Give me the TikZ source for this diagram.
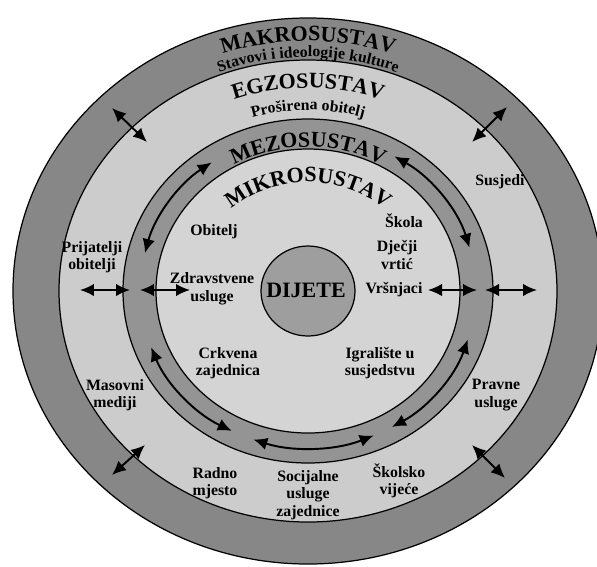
\documentclass[tikz,border=0pt]{standalone}
\usepackage{fontspec}
\setmainfont{Liberation Serif}
\usetikzlibrary{arrows.meta,decorations.text}
\definecolor{makrofill}{gray}{0.53}
\definecolor{egzofill}{gray}{0.80}
\definecolor{mezofill}{gray}{0.58}
\definecolor{mikrofill}{gray}{0.83}
\definecolor{dijetefill}{gray}{0.62}
\tikzset{
  ring/.style={draw=black, line width=0.7pt},
  lbl/.style={font=\bfseries\fontsize{9}{10}\selectfont, align=center, inner sep=0pt},
  link/.style={{Latex[length=2.8mm,width=2.5mm]}-{Latex[length=2.8mm,width=2.5mm]}, line width=1.1pt},
  arctext/.style={decorate, decoration={text along path, text align=center, text={#1}}}
}
\newcommand{\ringtitle}{\bfseries\fontsize{12.5}{12.5}\selectfont}
\newcommand{\ringsub}{\bfseries\fontsize{9}{9}\selectfont}

\begin{document}
\begin{tikzpicture}[x=0.02cm, y=0.02cm]
  \useasboundingbox (-308,-275) rectangle (289,291);
  \begin{scope}
    \clip (-308,-275) rectangle (289,291);
    \draw[ring, fill=makrofill] (0,0) ellipse[x radius=295, y radius=273];
  \end{scope}
  \draw[ring, fill=egzofill] (0,0) ellipse[x radius=249, y radius=231];
  \draw[ring, fill=mezofill] (0,0) ellipse[x radius=185, y radius=172];
  \draw[ring, fill=mikrofill] (0,0) ellipse[x radius=152, y radius=142];
  \draw[ring, fill=dijetefill] (0,0) ellipse[x radius=47, y radius=45];

  \path[arctext={|\ringtitle|MAKROSUSTAV}] (150:267 and 250)
    arc[start angle=150, end angle=30, x radius=267, y radius=250];
  \path[arctext={|\ringsub|Stavovi i ideologije kulture}] (150:250 and 234)
    arc[start angle=150, end angle=30, x radius=250, y radius=234];
  \path[arctext={|\ringtitle|EGZOSUSTAV}] (150:217 and 203)
    arc[start angle=150, end angle=30, x radius=217, y radius=203];
  \path[arctext={|\ringsub|Proširena obitelj}] (150:194 and 181)
    arc[start angle=150, end angle=30, x radius=194, y radius=181];
  \path[arctext={|\ringtitle|MEZOSUSTAV}] (150:154 and 144)
    arc[start angle=150, end angle=30, x radius=154, y radius=144];
  \path[arctext={|\ringtitle|MIKROSUSTAV}] (160:117 and 109)
    arc[start angle=160, end angle=20, x radius=117, y radius=109];

  \node[font=\bfseries\fontsize{12.5}{12.5}\selectfont] (dijete) at (-2,1) {DIJETE};
  \node[lbl] (obitelj) at (-94,59) {Obitelj};
  \node[lbl] (zdravstvene) at (-96,2) {Zdravstvene\\usluge};
  \node[lbl] (skola) at (96,70) {Škola};
  \node[lbl] (djecji) at (89,36) {Dječji\\vrtić};
  \node[lbl] (vrsnjaci) at (86,1) {Vršnjaci};
  \node[lbl] (crkvena) at (-80,-72) {Crkvena\\zajednica};
  \node[lbl] (igraliste) at (72,-72) {Igralište u\\susjedstvu};
  \node[lbl] (prijatelji) at (-216,34) {Prijatelji\\obitelji};
  \node[lbl] (susjedi) at (192,109) {Susjedi};
  \node[lbl] (masovni) at (-193,-104) {Masovni\\mediji};
  \node[lbl] (pravne) at (188,-104) {Pravne\\usluge};
  \node[lbl] (radno) at (-93,-192) {Radno\\mjesto};
  \node[lbl] (socijalne) at (0,-204) {Socijalne\\usluge\\zajednice};
  \node[lbl] (skolsko) at (91,-190) {Školsko\\vijeće};

  \coordinate (westOutA) at (-228,1);
  \coordinate (westOutB) at (-178,1);
  \coordinate (westInA) at (-168,1);
  \coordinate (westInB) at (-118,1);
  \coordinate (eastInA) at (120,1);
  \coordinate (eastInB) at (169,1);
  \coordinate (eastOutA) at (177,1);
  \coordinate (eastOutB) at (229,1);
  \coordinate (nwA) at (-196,183);
  \coordinate (nwB) at (-161,149);
  \coordinate (neA) at (199,184);
  \coordinate (neB) at (164,149);
  \coordinate (swA) at (-196,-184);
  \coordinate (swB) at (-163,-154);
  \coordinate (seA) at (164,-154);
  \coordinate (seB) at (197,-187);
  \coordinate (mezoNW) at (166:168 and 157);
  \coordinate (mezoNE) at (59:168 and 157);
  \coordinate (mezoSW) at (201:168 and 157);
  \coordinate (mezoS) at (251:168 and 157);
  \coordinate (mezoSE) at (300:168 and 157);

  \draw[link] (westOutA) -- (westOutB);
  \draw[link] (westInA) -- (westInB);
  \draw[link] (eastInA) -- (eastInB);
  \draw[link] (eastOutA) -- (eastOutB);
  \draw[link] (nwA) -- (nwB);
  \draw[link] (neA) -- (neB);
  \draw[link] (swA) -- (swB);
  \draw[link] (seA) -- (seB);
  \draw[link] (mezoNW) arc[start angle=166, end angle=125, x radius=168, y radius=157];
  \draw[link] (mezoNE) arc[start angle=59, end angle=16, x radius=168, y radius=157];
  \draw[link] (mezoSW) arc[start angle=201, end angle=243, x radius=168, y radius=157];
  \draw[link] (mezoS) arc[start angle=251, end angle=293, x radius=168, y radius=157];
  \draw[link] (mezoSE) arc[start angle=300, end angle=342, x radius=168, y radius=157];
\end{tikzpicture}
\end{document}
